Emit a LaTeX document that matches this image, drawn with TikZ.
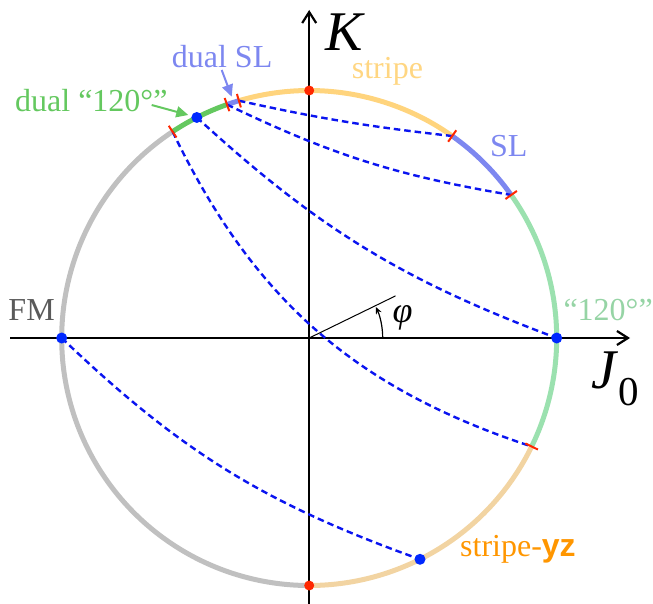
\documentclass[tikz,border=0pt]{standalone}
\usepackage{fontspec}
\setmainfont{Liberation Serif}
\newfontfamily\sansbold{Liberation Sans}
\usetikzlibrary{arrows.meta}

\definecolor{cgray}{RGB}{192,192,192}
\definecolor{cstripe}{RGB}{255,212,125}
\definecolor{cstripetext}{RGB}{255,214,130}
\definecolor{cyz}{RGB}{242,212,162}
\definecolor{cyztext}{RGB}{255,150,0}
\definecolor{cgreen}{RGB}{155,225,175}
\definecolor{cgreentext}{RGB}{150,212,165}
\definecolor{csl}{RGB}{125,135,240}
\definecolor{cdual}{RGB}{100,200,95}
\definecolor{ctick}{RGB}{255,40,0}
\definecolor{cdot}{RGB}{0,40,255}
\definecolor{cdash}{RGB}{10,20,240}
\definecolor{cfm}{RGB}{90,90,90}

\begin{document}
\begin{tikzpicture}[x=1pt,y=1pt,
  phase/.style={line width=5pt},
  dualline/.style={cdash, line width=2.4pt, dash pattern=on 6.5pt off 4pt},
  tickmark/.style={ctick, line width=2pt},
  bluedot/.style={circle, fill=cdot, inner sep=0pt, minimum size=11pt},
  reddot/.style={circle, fill=ctick, inner sep=0pt, minimum size=10pt},
  lbl/.style={inner sep=0pt, anchor=base west, font=\fontsize{32}{38}\selectfont},
  axisline/.style={line width=2.2pt, -{Straight Barb[length=11pt,width=14pt]}},
  lblarrow/.style={line width=2pt, -{Triangle[length=12pt,width=11pt]}},
]
\useasboundingbox (-309.2,-265) rectangle (343.8,338);
\def\R{247.5}

% axes
\coordinate (xl) at (-298.8,0);
\coordinate (xr) at (320.8,0);
\coordinate (yb) at (0,-266);
\coordinate (yt) at (0,328);
\draw[axisline] (xl) -- (xr);
\draw[axisline] (yb) -- (yt);

% phase arcs
\draw[phase, cgray]   (123.5:\R) arc[start angle=123.5, end angle=270, radius=\R];
\draw[phase, cyz]     (270:\R) arc[start angle=270, end angle=334, radius=\R];
\draw[phase, cgreen]  (-26:\R) arc[start angle=-26, end angle=35.3, radius=\R];
\draw[phase, csl]     (35.3:\R) arc[start angle=35.3, end angle=54.7, radius=\R];
\draw[phase, cstripe] (54.7:\R) arc[start angle=54.7, end angle=106.5, radius=\R];
\draw[phase, csl]     (106.5:\R) arc[start angle=106.5, end angle=109.4, radius=\R];
\draw[phase, cdual]   (109.4:\R) arc[start angle=109.4, end angle=123.5, radius=\R];

% points on the circle
\coordinate (t1065) at (106.5:\R);
\coordinate (t1094) at (109.4:\R);
\coordinate (t1235) at (123.5:\R);
\coordinate (t547) at (54.7:\R);
\coordinate (t353) at (35.3:\R);
\coordinate (tm26) at (-26:\R);
\coordinate (d117) at (117:\R);
\coordinate (d0) at (0:\R);
\coordinate (d180) at (180:\R);
\coordinate (dm634) at (-63.4:\R);

% dual mapping curves
\draw[dualline] (t1065) to[bend right=3] (t547);
\draw[dualline] (t1094) to[bend right=8] (t353);
\draw[dualline] (d117) to[bend right=11] (d0);
\draw[dualline] (t1235) to[bend right=23] (tm26);
\draw[dualline] (d180) to[bend right=12] (dm634);

% ticks
\foreach \a in {106.5,109.4,123.5,54.7,35.3,-26}{
  \draw[tickmark] ({\a}:{\R-7}) -- ({\a}:{\R+7});
}

% dots
\node[bluedot] (dot117) at (d117) {};
\node[bluedot] (dot0) at (d0) {};
\node[bluedot] (dot180) at (d180) {};
\node[bluedot] (dotm634) at (dm634) {};
\node[reddot] (dottop) at (90:\R) {};
\node[reddot] (dotbot) at (270:\R) {};

% angle phi
\coordinate (o) at (0,0);
\coordinate (phiend) at (26:96);
\draw[line width=1pt] (o) -- (phiend);
\draw[line width=1.2pt, -{Stealth[length=7pt,width=6pt]}] (0:73.5) arc[start angle=0, end angle=25, radius=73.5];
\node[inner sep=0pt, font=\fontsize{36}{40}\selectfont\itshape] (phi) at (93.3,20) {φ};

% axis labels
\node[inner sep=0pt, font=\fontsize{56}{60}\selectfont\itshape] (K) at (34.8,306.3) {K};
\node[inner sep=0pt, anchor=base west, font=\fontsize{56}{60}\selectfont\itshape] (J) at (282,-50) {J};
\node[inner sep=0pt, anchor=base west, font=\fontsize{41}{44}\selectfont] (Jsub) at (309.5,-67) {0};

% phase labels
\node[lbl, text=csl] (dualSL) at (-137.5,270) {dual SL};
\node[lbl, text=cdual] (dual120) at (-294.2,226.3) {dual “120°”};
\node[lbl, text=cstripetext] (stripe) at (42.5,259) {stripe};
\node[lbl, text=csl] (SL) at (180.8,181.3) {SL};
\node[lbl, text=cgreentext] (t120) at (254.1,18) {“120°”};
\node[lbl, text=cfm] (FM) at (-300.9,18) {FM};
\node[lbl, text=cyztext] (yz) at (150.8,-218) {stripe-{\sansbold\bfseries yz}};

% label arrows
\coordinate (ga1) at (-157.5,233);
\coordinate (ga2) at (-120.9,223);
\draw[lblarrow, cdual] (ga1) -- (ga2);
\coordinate (ba1) at (-87.5,268);
\coordinate (ba2) at (-77.5,241.3);
\draw[lblarrow, csl] (ba1) -- (ba2);
\end{tikzpicture}
\end{document}
